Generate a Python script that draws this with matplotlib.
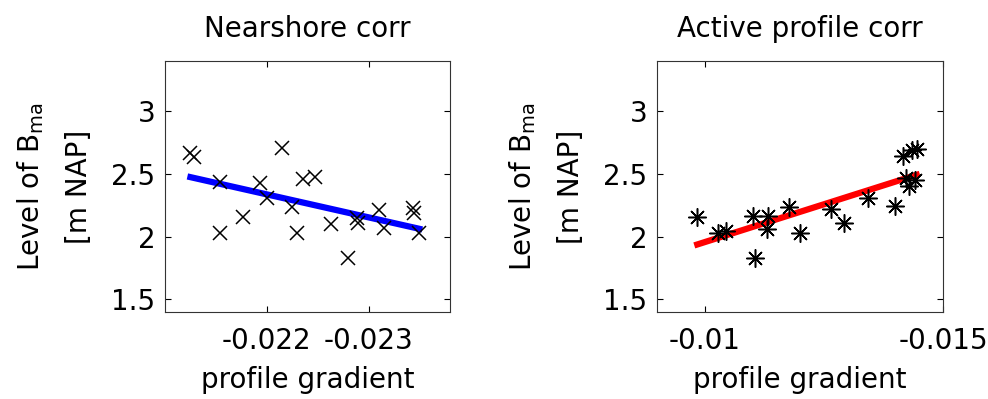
import numpy as np
import matplotlib
matplotlib.use("Agg")
import matplotlib.pyplot as plt

plt.rcParams["font.family"] = ["DejaVu Sans"]
plt.rcParams["axes.unicode_minus"] = False
plt.rcParams["mathtext.fontset"] = "dejavusans"

# Nearshore profile gradient vs level of B_ma
nearshore_gradient = [-0.02125, -0.02128, -0.021544, -0.021544, -0.021765, -0.021935,
                      -0.02200, -0.02215, -0.02225, -0.022293, -0.022358, -0.022469,
                      -0.022635, -0.022798, -0.022886, -0.022893, -0.023107, -0.023156,
                      -0.02344, -0.023446, -0.023498]
nearshore_level = [2.67, 2.638, 2.439, 2.027, 2.16, 2.43,
                   2.306, 2.71, 2.24, 2.032, 2.457, 2.473,
                   2.10, 1.827, 2.146, 2.112, 2.213, 2.066,
                   2.226, 2.186, 2.032]

# Active profile gradient vs level of B_ma
active_gradient = [-0.009845, -0.010282, -0.010445, -0.011024, -0.011059, -0.011328,
                   -0.011314, -0.011766, -0.012006, -0.012655, -0.012917, -0.013432,
                   -0.013997, -0.014167, -0.01435, -0.014449, -0.014223, -0.014294,
                   -0.014421]
active_level = [2.160, 2.032, 2.043, 2.165, 1.827, 2.168,
                2.064, 2.234, 2.032, 2.218, 2.106, 2.306,
                2.245, 2.644, 2.691, 2.702, 2.465, 2.407,
                2.452]

y_ticks = [1.5, 2, 2.5, 3]
nearshore_xticks = [-0.022, -0.023]
active_xticks = [-0.01, -0.015]

FS = 20


def draw_panel(ax, x, y, marker, msize, line_color, title, xlim, xticks):
    x = np.asarray(x)
    y = np.asarray(y)
    ax.plot(x, y, linestyle="none", marker=marker, color="black",
            markersize=msize, markeredgewidth=1.1, zorder=3)
    # least-squares fit over the data range
    slope, intercept = np.polyfit(x, y, 1)
    xs = np.array([x.max(), x.min()])
    ax.plot(xs, slope * xs + intercept, color=line_color, linewidth=4.5, zorder=2)

    ax.set_xlim(*xlim)
    ax.set_ylim(1.4, 3.4)
    ax.set_xticks(xticks)
    ax.set_xticklabels([f"{t:g}" for t in xticks])
    ax.set_yticks(y_ticks)
    ax.set_yticklabels([f"{t:g}" for t in y_ticks])
    ax.tick_params(direction="in", length=4, width=0.8, top=True, right=True,
                   labelsize=FS, colors="black")
    ax.tick_params(axis="x", pad=11)
    ax.tick_params(axis="y", pad=7)
    for s in ax.spines.values():
        s.set_linewidth(0.8)
        s.set_color("#333333")
    ax.set_title(title, fontsize=FS, pad=17)
    ax.set_xlabel("profile gradient", fontsize=FS, labelpad=8)
    ax.set_ylabel("Level of B$_{\\mathregular{ma}}$\n[m NAP]", fontsize=FS,
                  linespacing=1.85, labelpad=13)


fig = plt.figure(figsize=(9.88, 3.99), dpi=100)
ax1 = fig.add_axes([165 / 988, 1 - 312 / 399, 285 / 988, 251 / 399])
ax2 = fig.add_axes([657 / 988, 1 - 312 / 399, 286 / 988, 251 / 399])

draw_panel(ax1, nearshore_gradient, nearshore_level, "x", 10, "#0000ff",
           "Nearshore corr", (-0.021, -0.0238), nearshore_xticks)
draw_panel(ax2, active_gradient, active_level, (8, 2, 0), 13, "#ff0000",
           "Active profile corr", (-0.009, -0.015), active_xticks)

fig.savefig("out.png", dpi=100)
